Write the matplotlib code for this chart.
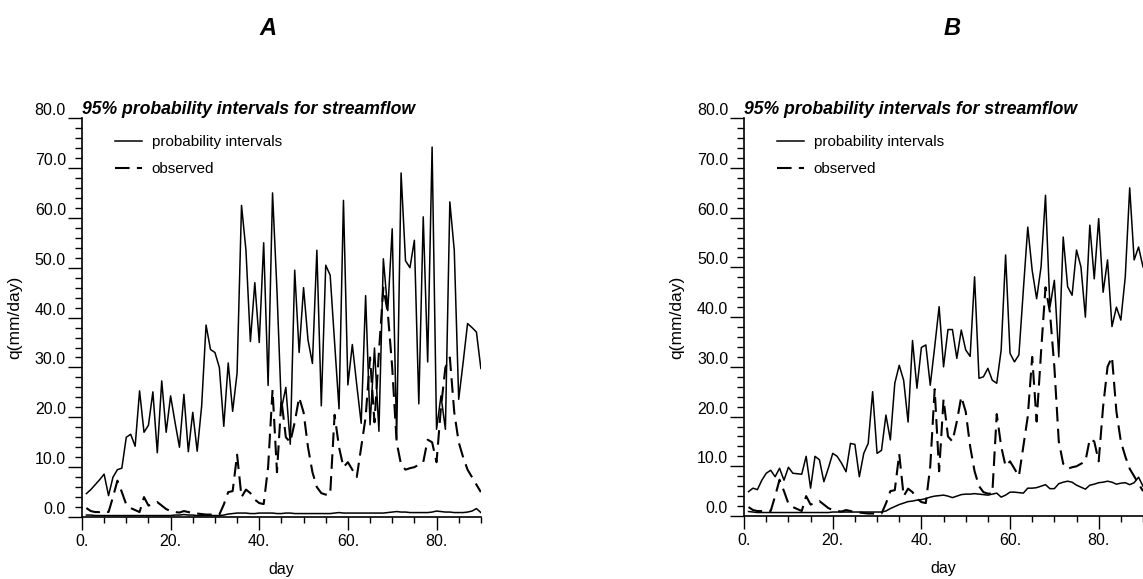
import numpy as np
import matplotlib.pyplot as plt
from matplotlib.ticker import MultipleLocator

plt.rcParams['font.family'] = ['Liberation Sans', 'DejaVu Sans']

# daily values
days = np.arange(1, 91)

upper_a = [4.7, 5.5, 6.5, 7.5, 8.6, 4.3, 8.0, 9.5, 9.8, 16.0,
           16.6, 14.2, 25.3, 17.0, 18.4, 25.1, 12.9, 27.3, 17.0, 24.3,
           19.0, 14.0, 24.6, 13.1, 21.0, 13.2, 22.2, 38.5, 33.6, 33.0,
           30.0, 18.2, 30.9, 21.2, 28.9, 62.5, 53.5, 35.2, 47.0, 35.0,
           55.0, 26.4, 65.0, 45.4, 21.7, 26.0, 14.6, 49.5, 33.0, 46.0,
           35.5, 30.8, 53.5, 22.3, 50.5, 48.5, 35.0, 21.7, 63.5, 26.5,
           34.6, 26.5, 18.8, 44.4, 18.5, 33.9, 17.2, 51.8, 41.4, 57.8,
           15.7, 69.0, 51.4, 50.0, 55.5, 22.7, 60.2, 31.1, 74.2, 17.6,
           24.3, 17.6, 63.2, 53.5, 23.6, 31.0, 38.8, 38.0, 37.1, 29.8]

lower_a = [0.4, 0.4, 0.3, 0.3, 0.3, 0.3, 0.3, 0.3, 0.3, 0.3,
           0.3, 0.3, 0.3, 0.3, 0.3, 0.3, 0.3, 0.3, 0.3, 0.3,
           0.4, 0.4, 0.5, 0.4, 0.4, 0.3, 0.3, 0.3, 0.3, 0.3,
           0.3, 0.4, 0.6, 0.7, 0.8, 0.8, 0.8, 0.7, 0.7, 0.8,
           0.8, 0.8, 0.8, 0.7, 0.7, 0.8, 0.8, 0.7, 0.7, 0.7,
           0.7, 0.7, 0.7, 0.7, 0.7, 0.7, 0.8, 0.9, 0.8, 0.8,
           0.8, 0.8, 0.8, 0.8, 0.8, 0.8, 0.8, 0.8, 0.9, 1.0,
           1.1, 1.0, 1.0, 0.9, 0.9, 0.9, 0.9, 0.9, 1.0, 1.2,
           1.1, 1.0, 1.0, 0.9, 0.9, 0.9, 1.0, 1.2, 1.7, 0.9]

upper_b = [4.9, 5.6, 5.3, 7.2, 8.6, 9.2, 7.9, 9.6, 7.2, 9.8,
           8.6, 8.5, 8.4, 12.0, 5.6, 12.0, 11.3, 6.9, 9.6, 12.6,
           12.0, 10.6, 8.9, 14.6, 14.4, 7.9, 12.6, 14.6, 25.0, 12.6,
           13.2, 20.3, 15.3, 26.7, 30.3, 27.3, 18.9, 35.3, 25.7, 33.9,
           34.4, 26.3, 34.0, 42.1, 30.0, 37.5, 37.5, 31.7, 37.4, 33.4,
           32.1, 48.1, 27.7, 28.0, 29.7, 27.3, 26.7, 33.4, 52.5, 32.7,
           31.0, 32.4, 45.4, 58.1, 49.4, 43.7, 50.1, 64.5, 42.0, 47.4,
           32.0, 56.1, 46.1, 44.4, 53.5, 50.1, 40.0, 58.5, 47.7, 59.8,
           45.0, 51.5, 38.1, 42.0, 39.4, 48.1, 66.0, 51.5, 54.1, 50.1]

lower_b = [0.9, 0.8, 0.7, 0.7, 0.7, 0.7, 0.7, 0.7, 0.7, 0.7,
           0.7, 0.7, 0.7, 0.7, 0.7, 0.7, 0.7, 0.7, 0.7, 0.8,
           0.8, 0.8, 0.8, 0.8, 0.8, 0.8, 0.8, 0.8, 0.8, 0.8,
           0.8, 1.0, 1.5, 1.9, 2.3, 2.6, 2.9, 3.0, 3.2, 3.3,
           3.5, 3.8, 4.0, 4.1, 4.2, 4.0, 3.7, 4.0, 4.3, 4.4,
           4.4, 4.5, 4.4, 4.3, 4.2, 4.4, 4.6, 3.8, 4.2, 4.8,
           4.8, 4.7, 4.6, 5.6, 5.6, 5.7, 6.0, 6.3, 5.5, 5.5,
           6.5, 6.8, 7.0, 6.8, 6.2, 5.8, 5.4, 6.2, 6.4, 6.7,
           6.8, 7.0, 6.8, 6.4, 6.6, 6.7, 6.3, 6.7, 7.8, 6.0]

observed = [1.8, 1.2, 1.0, 1.0, 1.2, 1.0, 4.0, 7.3, 5.0, 2.5,
            1.8, 1.4, 1.0, 4.0, 2.3, 2.6, 3.0, 2.3, 1.6, 1.2,
            1.0, 0.9, 1.2, 1.0, 0.8, 0.7, 0.6, 0.5, 0.5, 0.4,
            0.5, 2.5, 5.0, 5.2, 12.5, 4.0, 5.5, 4.8, 3.5, 2.8,
            2.6, 10.0, 25.5, 9.0, 23.5, 16.0, 15.0, 19.0, 24.0, 21.0,
            14.0, 9.0, 6.0, 4.8, 4.5, 4.5, 20.5, 14.0, 10.0, 11.0,
            9.5, 8.0, 14.0, 20.0, 32.0, 19.0, 33.0, 46.0, 41.0, 30.0,
            15.0, 10.5, 9.5, 9.8, 10.0, 10.5, 11.0, 15.5, 15.0, 11.0,
            22.0, 30.0, 32.0, 21.0, 15.0, 12.0, 9.5, 8.0, 6.5, 5.0]

panel_names = ["A", "B"]
uppers = [upper_a, upper_b]
lowers = [lower_a, lower_b]

yticks = [0, 10, 20, 30, 40, 50, 60, 70, 80]
ytick_labels = ["0.0", "10.0", "20.0", "30.0", "40.0", "50.0", "60.0", "70.0", "80.0"]
xticks = [0, 20, 40, 60, 80]
xtick_labels = ["0.", "20.", "40.", "60.", "80."]

fig = plt.figure(figsize=(11.43, 5.79), dpi=100)
positions = [[0.0717, 0.107, 0.349, 0.689], [0.651, 0.1088, 0.349, 0.687]]
name_x = [0.2345, 0.833]

for i in range(2):
    ax = fig.add_axes(positions[i])
    ax.plot(days, uppers[i], color='k', lw=1.1, label='probability intervals')
    ax.plot(days, lowers[i], color='k', lw=1.1)
    ax.plot(days, observed, color='k', lw=1.5, dashes=(7, 3.5), label='observed')

    ax.set_xlim(0, 90)
    ax.set_ylim(0, 80)
    ax.set_yticks(yticks, ytick_labels)
    ax.set_xticks(xticks, xtick_labels)
    ax.yaxis.set_minor_locator(MultipleLocator(2))
    ax.xaxis.set_minor_locator(MultipleLocator(5))
    ax.tick_params(axis='y', which='major', direction='out', length=10, width=1, pad=1.5, labelsize=11.5)
    ax.tick_params(axis='y', which='minor', direction='out', length=5, width=1)
    ax.tick_params(axis='x', which='major', direction='out', length=9, width=1, pad=3.5, labelsize=11.5)
    ax.tick_params(axis='x', which='minor', direction='out', length=4, width=1)
    for lab in ax.get_yticklabels():
        lab.set_va('bottom')
    for side in ['top', 'right']:
        ax.spines[side].set_visible(False)
    ax.spines['left'].set_linewidth(1.2)
    ax.spines['bottom'].set_linewidth(1.2)

    ax.set_xlabel('day', fontsize=11.5, labelpad=9)
    ax.set_ylabel('q(mm/day)', fontsize=12.5, labelpad=9)
    ax.set_title('95% probability intervals for streamflow', loc='left', pad=3,
                 fontsize=12.7, fontweight='bold', fontstyle='italic')
    ax.legend(loc='upper left', bbox_to_anchor=(0.083, 0.958), frameon=False,
              fontsize=11, handlelength=1.75, handletextpad=0.65,
              labelspacing=0.85, borderpad=0, borderaxespad=0)

    fig.text(name_x[i], 0.95, panel_names[i], fontsize=17, fontweight='bold',
             fontstyle='italic', ha='center', va='center')

fig.savefig('out.png', dpi=100)
